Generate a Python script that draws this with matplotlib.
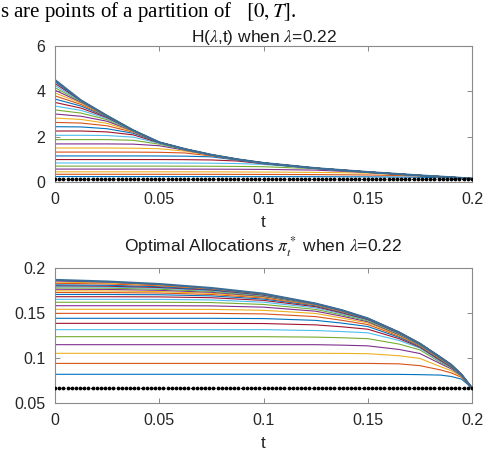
import numpy as np
import matplotlib
matplotlib.use("Agg")
import matplotlib.pyplot as plt

plt.rcParams['font.family'] = ['Liberation Sans', 'DejaVu Sans']
plt.rcParams['mathtext.fontset'] = 'stix'

# knot times for the two families of iterates
t_h = [0, 0.0125, 0.025, 0.0375, 0.05, 0.0625, 0.075, 0.0875, 0.1, 0.125, 0.15, 0.175, 0.19, 0.2]
t_pi = [0, 0.025, 0.05, 0.075, 0.1, 0.125, 0.1375, 0.15, 0.165, 0.175, 0.185, 0.19, 0.195, 0.2]
t_grid = np.linspace(0, 0.2, 101)

h_base = 0.15
pi_base = 0.0667

h_tail = [1.75, 1.45, 1.20, 1.00, 0.84, 0.61, 0.44, 0.29, 0.21, 0.15]

# H(lambda,t) iterates
h_curves = [
    [0.24, 0.24, 0.24, 0.24, 0.24, 0.24, 0.239, 0.238, 0.237, 0.234, 0.227, 0.211, 0.185, 0.15],
    [0.34, 0.34, 0.34, 0.34, 0.34, 0.339, 0.338, 0.336, 0.334, 0.327, 0.31, 0.268, 0.198, 0.15],
    [0.45, 0.45, 0.45, 0.45, 0.45, 0.448, 0.447, 0.444, 0.44, 0.425, 0.39, 0.277, 0.203, 0.15],
    [0.57, 0.57, 0.57, 0.57, 0.57, 0.568, 0.566, 0.562, 0.555, 0.525, 0.42, 0.283, 0.205, 0.15],
    [0.70, 0.70, 0.70, 0.70, 0.70, 0.697, 0.694, 0.688, 0.675, 0.585, 0.428, 0.285, 0.206, 0.15],
    [0.84, 0.84, 0.84, 0.84, 0.84, 0.836, 0.83, 0.815, 0.775, 0.595, 0.432, 0.286, 0.207, 0.15],
    [0.99, 0.99, 0.99, 0.99, 0.99, 0.985, 0.972, 0.925, 0.805, 0.60, 0.435, 0.287, 0.208, 0.15],
    [1.15, 1.15, 1.15, 1.15, 1.148, 1.14, 1.11, 0.965, 0.82, 0.603, 0.437, 0.288, 0.208, 0.15],
    [1.32, 1.32, 1.32, 1.318, 1.31, 1.28, 1.15, 0.98, 0.828, 0.605, 0.438, 0.288, 0.209, 0.15],
    [1.50, 1.50, 1.50, 1.49, 1.47, 1.36, 1.17, 0.988, 0.832, 0.607, 0.439, 0.289, 0.209, 0.15],
    [1.68, 1.68, 1.68, 1.67, 1.60, 1.40, 1.18, 0.992, 0.835, 0.608, 0.44, 0.29, 0.21, 0.15],
    [1.87, 1.87, 1.87, 1.84, 1.67, 1.42, 1.19, 0.995, 0.837, 0.609, 0.44, 0.29, 0.21, 0.15],
    [2.06, 2.06, 2.05, 1.98, 1.71, 1.435, 1.195, 0.997, 0.838, 0.61, 0.44, 0.29, 0.21, 0.15],
    [2.25, 2.25, 2.21, 2.08, 1.73, 1.44, 1.198, 0.998, 0.839, 0.61, 0.44, 0.29, 0.21, 0.15],
    [2.44, 2.43, 2.35, 2.15] + h_tail,
    [2.63, 2.60, 2.48, 2.20] + h_tail,
    [2.82, 2.76, 2.59, 2.23] + h_tail,
    [3.00, 2.90, 2.68, 2.25] + h_tail,
    [3.18, 3.04, 2.75, 2.26] + h_tail,
    [3.35, 3.16, 2.80, 2.27] + h_tail,
    [3.51, 3.26, 2.84, 2.275] + h_tail,
    [3.66, 3.35, 2.87, 2.278] + h_tail,
    [3.80, 3.42, 2.89, 2.28] + h_tail,
    [3.93, 3.48, 2.90, 2.28] + h_tail,
    [4.05, 3.52, 2.91, 2.28] + h_tail,
    [4.16, 3.55, 2.915, 2.28] + h_tail,
    [4.26, 3.57, 2.918, 2.28] + h_tail,
    [4.35, 3.585, 2.92, 2.28] + h_tail,
    [4.43, 3.595, 2.92, 2.28] + h_tail,
    [4.50, 3.60, 2.92, 2.28] + h_tail,
]

pi_tail = [.1440, .1285, .1160, .1005, .0925, .0815, .0667]

# optimal allocation iterates
pi_curves = [
    [.0819, .0819, .0819, .0819, .0819, .0819, .0819, .0819, .0818, .0815, .0810, .0795, .0765, .0667],
    [.0940, .0940, .0940, .0940, .0940, .0940, .0940, .0940, .0935, .0915, .0867, .0835, .0785, .0667],
    [.1052, .1052, .1052, .1052, .1052, .1052, .1051, .1048, .1025, .0995, .0903, .0860, .0795, .0667],
    [.1148, .1148, .1148, .1148, .1148, .1148, .1143, .1135, .1095, .1050, .0935, .0880, .0800, .0667],
    [.1237, .1237, .1237, .1237, .1237, .1232, .1225, .1215, .1155, .1090, .0950, .0890, .0803, .0667],
    [.1315, .1315, .1315, .1315, .1315, .1305, .1294, .1280, .1195, .1110, .0960, .0895, .0805, .0667],
    [.1385, .1385, .1385, .1385, .1383, .1368, .1347, .1320, .1215, .1120, .0970, .0900, .0808, .0667],
    [.1441, .1441, .1441, .1441, .1438, .1418, .1388, .1350, .1230, .1128, .0978, .0905, .0809, .0667],
    [.1496, .1496, .1496, .1496, .1490, .1460, .1419, .1372, .1243, .1135, .0984, .0910, .0810, .0667],
    [.1541, .1541, .1541, .1540, .1530, .1495, .1445, .1390, .1252, .1140, .0990, .0913, .0811, .0667],
    [.1581, .1581, .1581, .1579, .1565, .1520, .1465, .1403, .1260, .1145, .0994, .0916, .0812, .0667],
    [.1619, .1619, .1619, .1616, .1595, .1540, .1480, .1413, .1266, .1149, .0997, .0918, .0813, .0667],
    [.1652, .1652, .1651, .1645, .1620, .1557, .1492, .1422, .1272, .1152, .1000, .0920, .0813, .0667],
    [.1681, .1681, .1679, .1670, .1640, .1570, .1502, .1428, .1276, .1155, .1001, .0921, .0814, .0667],
    [.1706, .1706, .1703, .1690, .1655, .1580, .1510, .1432, .1280, .1157, .1002, .0922, .0814, .0667],
    [.1728, .1727, .1722, .1706, .1667, .1587, .1515, .1435, .1282, .1158, .1003, .0923, .0814, .0667],
    [.1747, .1745, .1738, .1719, .1676, .1592, .1520] + pi_tail,
    [.1764, .1762, .1752, .1730, .1684, .1595, .1523] + pi_tail,
    [.1779, .1776, .1764, .1740, .1690, .1598, .1526] + pi_tail,
    [.1792, .1788, .1775, .1748, .1695, .1600, .1528] + pi_tail,
    [.1803, .1798, .1784, .1755, .1700, .1602, .1529] + pi_tail,
    [.1813, .1808, .1792, .1760, .1704, .1603, .1530] + pi_tail,
    [.1830, .1823, .1803, .1767, .1708, .1604, .1531] + pi_tail,
    [.1843, .1834, .1811, .1772, .1711, .1605, .1532] + pi_tail,
    [.1856, .1843, .1817, .1775, .1713, .1605, .1532] + pi_tail,
    [.1868, .1850, .1822, .1778, .1715, .1605, .1532] + pi_tail,
]

x_ticks = [0, 0.05, 0.1, 0.15, 0.2]
x_ticklabels = ['0', '0.05', '0.1', '0.15', '0.2']
h_yticks = [0, 2, 4, 6]
pi_yticks = [0.05, 0.1, 0.15, 0.2]
pi_yticklabels = ['0.05', '0.1', '0.15', '0.2']

matlab_colors = ['#0072BD', '#D95319', '#EDB120', '#7E2F8E', '#77AC30', '#4DBEEE', '#A2142F']
last_color = '#3b6e96'

W, H = 485, 454
fig = plt.figure(figsize=(W / 100, H / 100), dpi=100)

fig.text(0.0, 0.999, 's are points of a partition of   $\\left[0,T\\right]$.',
         family='Liberation Serif', fontsize=15, color='black', va='top')

ax1 = fig.add_axes([55 / W, 1 - 182 / H, 417 / W, 136 / H])
ax2 = fig.add_axes([55 / W, 1 - 403 / H, 417 / W, 135 / H])


def style(ax):
    for sp in ax.spines.values():
        sp.set_color('#8a8a8a')
        sp.set_linewidth(0.8)
    ax.tick_params(direction='in', length=3.5, width=0.7, color='#8a8a8a',
                   top=True, right=True, labelsize=11.5, labelcolor='#262626', pad=7)
    ax.set_xlim(0, 0.2)
    ax.set_xticks(x_ticks)
    ax.set_xticklabels(x_ticklabels)
    ax.set_xlabel('t', fontsize=12.5, color='#262626', labelpad=6)


def draw(ax, t, curves, base):
    ax.plot(t_grid, np.full_like(t_grid, base), 'k:', marker='.', markersize=3.4, lw=0.8, zorder=3)
    for i, c in enumerate(curves):
        if i == len(curves) - 1:
            ax.plot(t, c, color=last_color, lw=1.5)
        else:
            ax.plot(t, c, color=matlab_colors[i % 7], lw=0.8)


# top panel
draw(ax1, t_h, h_curves, h_base)
ax1.set_ylim(0, 6)
ax1.set_yticks(h_yticks)
style(ax1)
ax1.set_title('H($\\lambda$,t) when $\\lambda$=0.22', fontsize=12.5, color='#1a1a1a', pad=3)

# bottom panel
draw(ax2, t_pi, pi_curves, pi_base)
ax2.set_ylim(0.05, 0.2)
ax2.set_yticks(pi_yticks)
ax2.set_yticklabels(pi_yticklabels)
style(ax2)
ax2.set_title('Optimal Allocations $\\pi^*_t$ when $\\lambda$=0.22', fontsize=12.5, color='#1a1a1a', pad=12)

fig.savefig('out.png', dpi=100)
